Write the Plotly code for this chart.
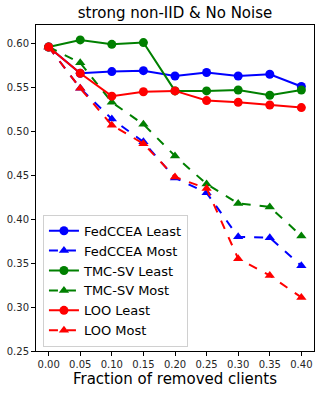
import plotly.graph_objects as go

fractions = [0.00, 0.05, 0.10, 0.15, 0.20, 0.25, 0.30, 0.35, 0.40]

fedccea_least = [0.596, 0.566, 0.568, 0.569, 0.563, 0.567, 0.563, 0.565, 0.551]
fedccea_most = [0.596, 0.549, 0.514, 0.488, 0.447, 0.430, 0.380, 0.379, 0.347]
tmcsv_least = [0.596, 0.604, 0.599, 0.601, 0.546, 0.546, 0.547, 0.541, 0.547]
tmcsv_most = [0.596, 0.578, 0.533, 0.508, 0.472, 0.440, 0.418, 0.414, 0.381]
loo_least = [0.596, 0.566, 0.540, 0.545, 0.546, 0.535, 0.533, 0.530, 0.527]
loo_most = [0.596, 0.549, 0.507, 0.486, 0.448, 0.435, 0.355, 0.336, 0.311]

x_ticks = [0.00, 0.05, 0.10, 0.15, 0.20, 0.25, 0.30, 0.35, 0.40]
y_ticks = [0.25, 0.30, 0.35, 0.40, 0.45, 0.50, 0.55, 0.60]

series = [
    ("FedCCEA Least", fedccea_least, "blue", "solid", "circle"),
    ("FedCCEA Most", fedccea_most, "blue", "dash", "triangle-up"),
    ("TMC-SV Least", tmcsv_least, "green", "solid", "circle"),
    ("TMC-SV Most", tmcsv_most, "green", "dash", "triangle-up"),
    ("LOO Least", loo_least, "red", "solid", "circle"),
    ("LOO Most", loo_most, "red", "dash", "triangle-up"),
]

fig = go.Figure()
for name, vals, color, dash, symbol in series:
    fig.add_trace(go.Scatter(
        x=fractions, y=vals, name=name, mode="lines+markers",
        line=dict(color=color, width=2, dash=dash),
        marker=dict(color=color, size=9, symbol=symbol),
    ))

fig.update_layout(
    width=322, height=394,
    margin=dict(l=36, r=8, t=25, b=43),
    paper_bgcolor="white", plot_bgcolor="white",
    font=dict(family="DejaVu Sans", color="#262626"),
    title=dict(text="strong non-IID & No Noise", xref="paper", x=0.5, xanchor="center",
               yref="container", y=0.967, yanchor="middle", font=dict(size=15, color="black")),
    legend=dict(x=0.025, y=0.013, xanchor="left", yanchor="bottom",
                bgcolor="rgba(255,255,255,0.85)", bordercolor="#d0d0d0", borderwidth=1,
                font=dict(size=13, color="black"), itemwidth=30, tracegroupgap=0),
    showlegend=True,
)
fig.update_xaxes(
    range=[-0.02, 0.42], tickvals=x_ticks, ticktext=[f"{t:.2f}" for t in x_ticks],
    showgrid=False, zeroline=False, showline=True, linecolor="black", linewidth=1,
    mirror=True, ticks="outside", ticklen=4, tickcolor="black", automargin=False,
    tickfont=dict(size=10), title=dict(text="Fraction of removed clients",
                                       font=dict(size=15, color="black"), standoff=4),
)
fig.update_yaxes(
    range=[0.25, 0.621], tickvals=y_ticks, ticktext=[f"{t:.2f}" for t in y_ticks],
    showgrid=False, zeroline=False, showline=True, linecolor="black", linewidth=1,
    mirror=True, ticks="outside", ticklen=4, tickcolor="black", tickfont=dict(size=10),
    automargin=False,
)

# drop the default page margin so the figure sits at the window's corner
fig.write_html("out.html", config={"displayModeBar": False},
               post_script="document.body.style.margin='0';")
